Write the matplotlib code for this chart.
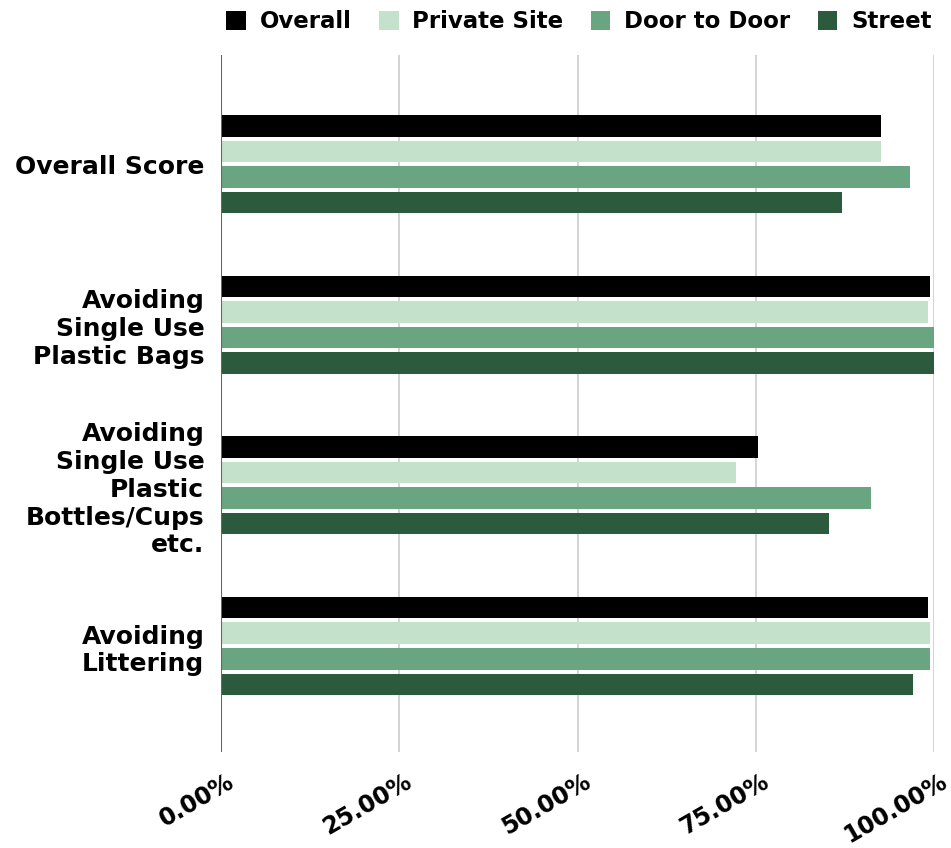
import numpy as np
import matplotlib.pyplot as plt
from matplotlib.transforms import ScaledTranslation

# данные с картинки
categories = ['Overall Score',
              'Avoiding\nSingle Use\nPlastic Bags',
              'Avoiding\nSingle Use\nPlastic\nBottles/Cups\netc.',
              'Avoiding\nLittering']
series_names = ['Overall', 'Private Site', 'Door to Door', 'Street']
overall = [92.6, 99.4, 75.3, 99.2]
private_site = [92.6, 99.2, 72.2, 99.4]
door_to_door = [96.6, 100.0, 91.2, 99.4]
street = [87.1, 100.0, 85.3, 97.1]
xticks = [0, 25, 50, 75, 100]
xticklabels = ['0.00%', '25.00%', '50.00%', '75.00%', '100.00%']

colors = ['#000000', '#c4e1cc', '#6aa582', '#2c5a3d']

fig = plt.figure(figsize=(9.51, 8.48), dpi=100)
ax = fig.add_axes([221/951, 1-752/848, (934-221)/951, (752-55)/848])

y = np.arange(len(categories))
step = 0.159
height = 0.134
all_series = [overall, private_site, door_to_door, street]
bars = []
for i, (vals, name, c) in enumerate(zip(all_series, series_names, colors)):
    b = ax.barh(y + (i - 1.5) * step, vals, height=height, color=c, label=name, zorder=3)
    bars.append(b)

ax.set_xlim(0, 100)
ax.set_ylim(3.66, -0.68)

# сетка
for t in xticks[1:]:
    ax.axvline(t, color='#cccccc', lw=1.2, zorder=1)
ax.axvline(0, color='#666666', lw=1.5, zorder=4)
for s in ax.spines.values():
    s.set_visible(False)
ax.tick_params(length=0)

ax.set_yticks(y)
ax.set_yticklabels(categories, fontsize=18, fontweight='bold', family='DejaVu Sans',
                   multialignment='right')
ax.tick_params(axis='y', pad=12)

ax.set_xticks(xticks)
ax.set_xticklabels(xticklabels, fontsize=17, fontweight='bold', family='DejaVu Sans')
ax.tick_params(axis='x', pad=20)
for lab in ax.get_xticklabels():
    lab.set_rotation(30)
    lab.set_ha('right')
    lab.set_va('center')
    lab.set_rotation_mode('anchor')
    lab.set_transform(lab.get_transform() + ScaledTranslation(0.11, 0, fig.dpi_scale_trans))

# легенда
fig.legend(handles=bars, labels=series_names, loc='center', bbox_to_anchor=(579/951, 1-22/848),
           ncol=4, frameon=False, prop={'size': 16.5, 'weight': 'bold'},
           handlelength=0.85, handleheight=0.85,
           handletextpad=0.6, columnspacing=1.2, borderaxespad=0)

fig.savefig('out.png', dpi=100)
